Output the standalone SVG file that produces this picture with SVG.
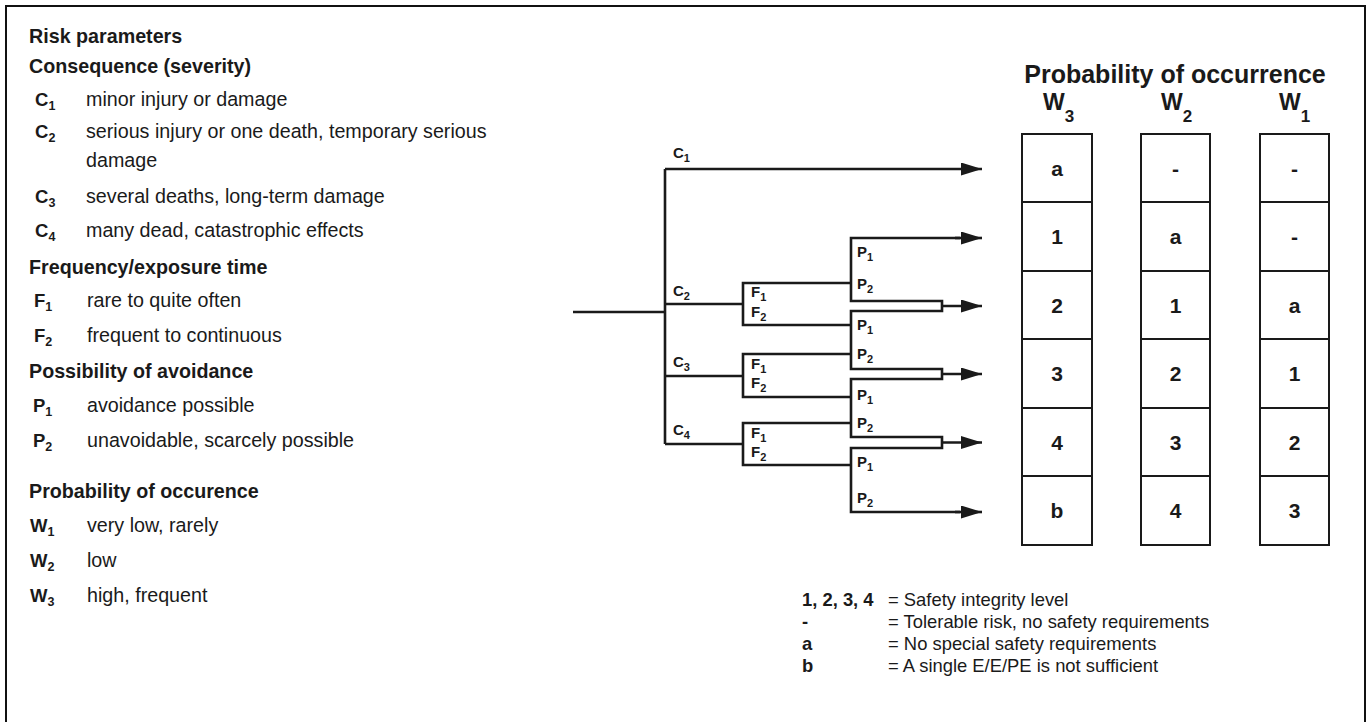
<svg xmlns="http://www.w3.org/2000/svg" width="1367" height="722" viewBox="0 0 1367 722">
<style>
text{font-family:"Liberation Sans",Arial,sans-serif;fill:#1a1a1a}
.h{font-size:19.7px;font-weight:bold}
.sym{font-size:18.5px;font-weight:bold}
.d{font-size:19.7px}
.sub{font-size:12.5px}
.tl{font-size:15px;font-weight:bold}
.ts{font-size:11px}
.cell{font-size:21px;font-weight:bold;text-anchor:middle}
.wh{font-size:23px;font-weight:bold}
.whs{font-size:17px}
.title{font-size:25px;font-weight:bold;text-anchor:middle}
.lg{font-size:18.4px}
.lgk{font-size:18.4px;font-weight:bold}
.ln{fill:none;stroke:#1a1a1a;stroke-width:2.6;stroke-linejoin:miter}
.box{fill:#fff;stroke:#1a1a1a;stroke-width:2}
</style>
<defs>
<marker id="ah" markerUnits="userSpaceOnUse" markerWidth="22" markerHeight="14" refX="21" refY="6.5" orient="auto">
<path d="M0,0 L21,6.5 L0,13 z" fill="#1a1a1a"/>
</marker>
</defs>
<rect x="6" y="6" width="1359" height="740" fill="#fff" stroke="#111" stroke-width="2"/>

<g id="legend-left">
<text class="h" x="29" y="43">Risk parameters</text>
<text class="h" x="29" y="73">Consequence (severity)</text>
<text class="sym" x="35" y="106">C<tspan class="sub" dy="4">1</tspan></text>
<text class="d" x="86" y="106">minor injury or damage</text>
<text class="sym" x="35" y="138">C<tspan class="sub" dy="4">2</tspan></text>
<text class="d" x="86" y="138">serious injury or one death, temporary serious</text>
<text class="d" x="86" y="167">damage</text>
<text class="sym" x="35" y="203">C<tspan class="sub" dy="4">3</tspan></text>
<text class="d" x="86" y="203">several deaths, long-term damage</text>
<text class="sym" x="35" y="237">C<tspan class="sub" dy="4">4</tspan></text>
<text class="d" x="86" y="237">many dead, catastrophic effects</text>
<text class="h" x="29" y="274">Frequency/exposure time</text>
<text class="sym" x="34" y="307">F<tspan class="sub" dy="4">1</tspan></text>
<text class="d" x="87" y="307">rare to quite often</text>
<text class="sym" x="34" y="342">F<tspan class="sub" dy="4">2</tspan></text>
<text class="d" x="87" y="342">frequent to continuous</text>
<text class="h" x="29" y="378">Possibility of avoidance</text>
<text class="sym" x="33" y="412">P<tspan class="sub" dy="4">1</tspan></text>
<text class="d" x="87" y="412">avoidance possible</text>
<text class="sym" x="33" y="447">P<tspan class="sub" dy="4">2</tspan></text>
<text class="d" x="87" y="447">unavoidable, scarcely possible</text>
<text class="h" x="29" y="498">Probability of occurence</text>
<text class="sym" x="30" y="532">W<tspan class="sub" dy="4">1</tspan></text>
<text class="d" x="87" y="532">very low, rarely</text>
<text class="sym" x="30" y="567">W<tspan class="sub" dy="4">2</tspan></text>
<text class="d" x="87" y="567">low</text>
<text class="sym" x="30" y="602">W<tspan class="sub" dy="4">3</tspan></text>
<text class="d" x="87" y="602">high, frequent</text>
</g>

<g id="connectors">
<path class="ln" d="M573,312 H665"/>
<path class="ln" d="M665,169 V444"/>
<path class="ln" d="M665,169 H982" marker-end="url(#ah)"/>
<path class="ln" d="M665,304 H743"/>
<path class="ln" d="M665,376 H743"/>
<path class="ln" d="M665,444 H743"/>
<path class="ln" d="M851,283 H743 V325 H851"/>
<path class="ln" d="M851,354 H743 V397 H851"/>
<path class="ln" d="M851,423 H743 V465 H851"/>
<path class="ln" d="M960,238 H851 V301 H942 V311 H851 V369 H942 V379 H851 V437 H942 V448 H851 V512 H960"/>
<path class="ln" d="M955,238 H982" marker-end="url(#ah)"/>
<path class="ln" d="M942,306 H982" marker-end="url(#ah)"/>
<path class="ln" d="M942,374 H982" marker-end="url(#ah)"/>
<path class="ln" d="M942,442.5 H982" marker-end="url(#ah)"/>
<path class="ln" d="M955,512 H982" marker-end="url(#ah)"/>
</g>

<g id="tree-labels">
<text class="tl" x="673" y="158">C<tspan class="ts" dy="4">1</tspan></text>
<text class="tl" x="673" y="296">C<tspan class="ts" dy="4">2</tspan></text>
<text class="tl" x="673" y="367">C<tspan class="ts" dy="4">3</tspan></text>
<text class="tl" x="673" y="435">C<tspan class="ts" dy="4">4</tspan></text>
<text class="tl" x="751" y="297">F<tspan class="ts" dy="4">1</tspan></text>
<text class="tl" x="751" y="317">F<tspan class="ts" dy="4">2</tspan></text>
<text class="tl" x="751" y="369">F<tspan class="ts" dy="4">1</tspan></text>
<text class="tl" x="751" y="388">F<tspan class="ts" dy="4">2</tspan></text>
<text class="tl" x="751" y="438">F<tspan class="ts" dy="4">1</tspan></text>
<text class="tl" x="751" y="457">F<tspan class="ts" dy="4">2</tspan></text>
<text class="tl" x="857" y="257">P<tspan class="ts" dy="4">1</tspan></text>
<text class="tl" x="857" y="289">P<tspan class="ts" dy="4">2</tspan></text>
<text class="tl" x="857" y="330">P<tspan class="ts" dy="4">1</tspan></text>
<text class="tl" x="857" y="359">P<tspan class="ts" dy="4">2</tspan></text>
<text class="tl" x="857" y="400">P<tspan class="ts" dy="4">1</tspan></text>
<text class="tl" x="857" y="428">P<tspan class="ts" dy="4">2</tspan></text>
<text class="tl" x="857" y="467">P<tspan class="ts" dy="4">1</tspan></text>
<text class="tl" x="857" y="503">P<tspan class="ts" dy="4">2</tspan></text>
</g>

<g id="table-title">
<text class="title" x="1175" y="83">Probability of occurrence</text>
</g>

<g id="col-w3">
<text class="wh" x="1043" y="110">W<tspan class="whs" dy="12">3</tspan></text>
<rect class="box" x="1022" y="134" width="70" height="68"/>
<rect class="box" x="1022" y="202" width="70" height="69"/>
<rect class="box" x="1022" y="271" width="70" height="68"/>
<rect class="box" x="1022" y="339" width="70" height="69"/>
<rect class="box" x="1022" y="408" width="70" height="68"/>
<rect class="box" x="1022" y="476" width="70" height="69"/>
<text class="cell" x="1057" y="176">a</text>
<text class="cell" x="1057" y="244">1</text>
<text class="cell" x="1057" y="313">2</text>
<text class="cell" x="1057" y="381">3</text>
<text class="cell" x="1057" y="450">4</text>
<text class="cell" x="1057" y="518">b</text>
</g>

<g id="col-w2">
<text class="wh" x="1161" y="110">W<tspan class="whs" dy="12">2</tspan></text>
<rect class="box" x="1141" y="134" width="69" height="68"/>
<rect class="box" x="1141" y="202" width="69" height="69"/>
<rect class="box" x="1141" y="271" width="69" height="68"/>
<rect class="box" x="1141" y="339" width="69" height="69"/>
<rect class="box" x="1141" y="408" width="69" height="68"/>
<rect class="box" x="1141" y="476" width="69" height="69"/>
<text class="cell" x="1175.5" y="176">-</text>
<text class="cell" x="1175.5" y="244">a</text>
<text class="cell" x="1175.5" y="313">1</text>
<text class="cell" x="1175.5" y="381">2</text>
<text class="cell" x="1175.5" y="450">3</text>
<text class="cell" x="1175.5" y="518">4</text>
</g>

<g id="col-w1">
<text class="wh" x="1279" y="110">W<tspan class="whs" dy="12">1</tspan></text>
<rect class="box" x="1260" y="134" width="69" height="68"/>
<rect class="box" x="1260" y="202" width="69" height="69"/>
<rect class="box" x="1260" y="271" width="69" height="68"/>
<rect class="box" x="1260" y="339" width="69" height="69"/>
<rect class="box" x="1260" y="408" width="69" height="68"/>
<rect class="box" x="1260" y="476" width="69" height="69"/>
<text class="cell" x="1294.5" y="176">-</text>
<text class="cell" x="1294.5" y="244">-</text>
<text class="cell" x="1294.5" y="313">a</text>
<text class="cell" x="1294.5" y="381">1</text>
<text class="cell" x="1294.5" y="450">2</text>
<text class="cell" x="1294.5" y="518">3</text>
</g>

<g id="legend-bottom">
<text class="lgk" x="802" y="606">1, 2, 3, 4</text>
<text class="lg" x="888" y="606">= Safety integrity level</text>
<text class="lgk" x="802" y="628">-</text>
<text class="lg" x="888" y="628">= Tolerable risk, no safety requirements</text>
<text class="lgk" x="802" y="650">a</text>
<text class="lg" x="888" y="650">= No special safety requirements</text>
<text class="lgk" x="802" y="672">b</text>
<text class="lg" x="888" y="672">= A single E/E/PE is not sufficient</text>
</g>
</svg>
